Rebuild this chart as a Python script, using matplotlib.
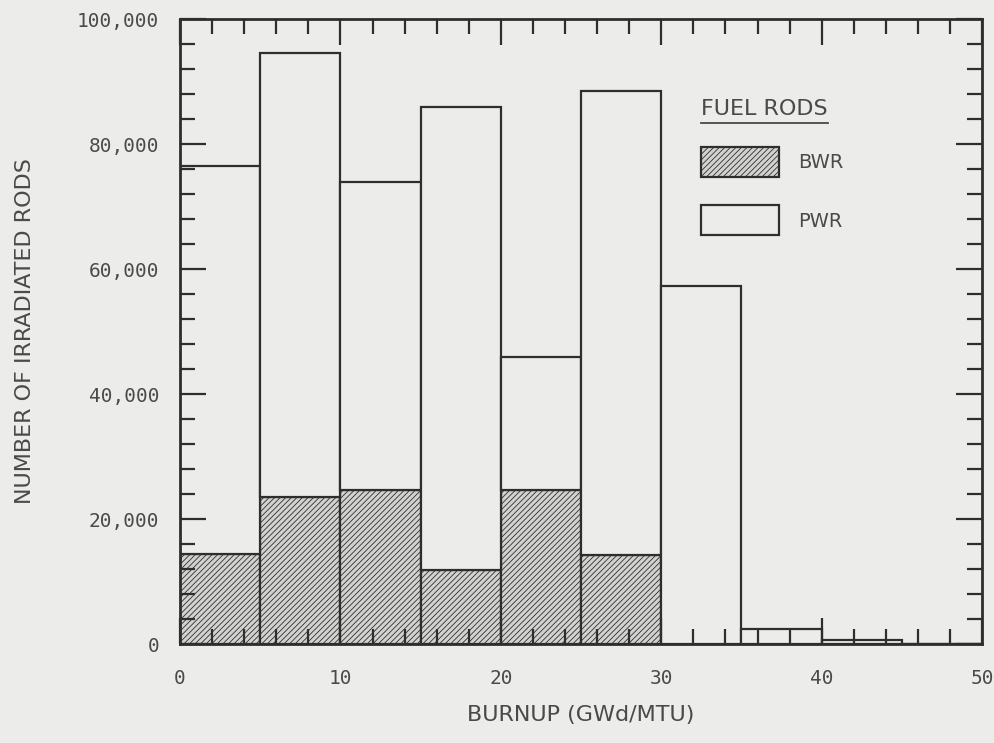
import matplotlib
matplotlib.use("Agg")
import matplotlib.pyplot as plt
from matplotlib.patches import Patch
from matplotlib.ticker import MultipleLocator, FuncFormatter

# Data (burnup bins, GWd/MTU) and rod counts
bin_left = [0, 5, 10, 15, 20, 25, 30, 35, 40, 45]
bin_width = 5
bwr_rods = [14400, 23600, 24600, 11800, 24600, 14200, 0, 0, 0, 0]
pwr_rods = [62100, 71000, 49300, 74100, 21300, 74300, 57300, 2400, 600, 0]

x_ticks = [0, 10, 20, 30, 40, 50]
y_ticks = [0, 20000, 40000, 60000, 80000, 100000]

BG = "#ececea"
INK = "#2e2e2e"
TXT = "#4a4a4a"
BWR_FACE = "#d2d2d0"
HATCH = "//////"

plt.rcParams["hatch.linewidth"] = 0.6
plt.rcParams["hatch.color"] = "#8c8c8c"

fig = plt.figure(figsize=(9.95, 7.43), dpi=100, facecolor=BG)
ax = fig.add_axes([0.181, 0.1332, 0.806, 0.8412])
ax.set_facecolor(BG)
ax.set_axisbelow(False)

ax.bar(bin_left, bwr_rods, width=bin_width, align="edge",
       facecolor=BWR_FACE, edgecolor=INK, linewidth=1.6, hatch=HATCH,
       label="BWR", zorder=2)
ax.bar(bin_left, pwr_rods, width=bin_width, align="edge", bottom=bwr_rods,
       facecolor=BG, edgecolor=INK, linewidth=1.6,
       label="PWR", zorder=2)

ax.set_xlim(0, 50)
ax.set_ylim(0, 100000)
ax.set_xticks(x_ticks)
ax.set_yticks(y_ticks)
ax.xaxis.set_minor_locator(MultipleLocator(2))
ax.yaxis.set_minor_locator(MultipleLocator(4000))
ax.yaxis.set_major_formatter(FuncFormatter(lambda v, p: "0" if v == 0 else f"{int(v):,}"))

mono = "DejaVu Sans Mono"
ax.tick_params(which="both", direction="in", top=True, right=True,
               color=INK, width=1.6, labelcolor=TXT)
ax.tick_params(which="major", length=19)
ax.tick_params(which="minor", length=11)
ax.tick_params(axis="x", which="major", pad=18)
ax.tick_params(axis="y", which="major", pad=15)
for lab in ax.get_xticklabels() + ax.get_yticklabels():
    lab.set_fontfamily(mono)
    lab.set_fontsize(14)

for s in ax.spines.values():
    s.set_color(INK)
    s.set_linewidth(2.0)

ax.set_xlabel("BURNUP (GWd/MTU)", fontsize=16, color=TXT, labelpad=12)
ax.set_ylabel("NUMBER OF IRRADIATED RODS", fontsize=16, color=TXT, labelpad=30)

handles = [Patch(facecolor=BWR_FACE, edgecolor=INK, linewidth=1.6, hatch=HATCH, label="BWR"),
           Patch(facecolor=BG, edgecolor=INK, linewidth=1.6, label="PWR")]
leg = ax.legend(handles=handles, title="FUEL RODS", loc="upper left",
                bbox_to_anchor=(0.628, 0.9), frameon=False,
                handlelength=4.0, handleheight=2.0, labelspacing=1.45,
                handletextpad=1.0, fontsize=14, title_fontsize=16,
                alignment="left")
leg.get_title().set_color(TXT)
for t in leg.get_texts():
    t.set_color(TXT)

fig.canvas.draw()
# underline the legend title
tb = leg.get_title().get_window_extent()
inv = fig.transFigure.inverted()
(x0, y0), (x1, y1) = inv.transform([(tb.x0, tb.y0), (tb.x1, tb.y0)])
fig.add_artist(plt.Line2D([x0, x1], [y0 - 0.006, y0 - 0.006], color=TXT, linewidth=1.3))

fig.savefig("out.png", dpi=100, facecolor=BG)
